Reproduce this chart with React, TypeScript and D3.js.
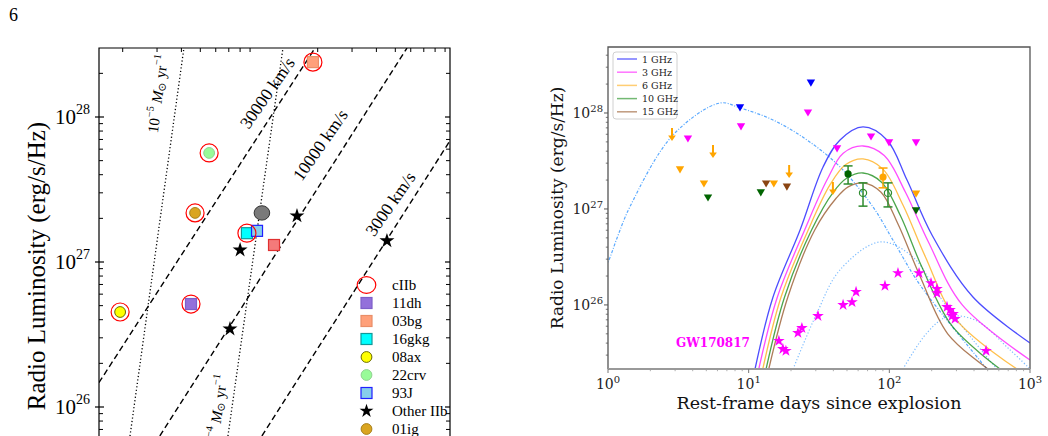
import React from "react";
import * as d3 from "d3";

// ---------------- Left panel data ----------------
const snNames = ["11dh", "03bg", "16gkg", "08ax", "22crv", "93J", "01ig"];
const snPeakDays = [44.8, 189, 86.7, 19.4, 55.5, 97.7, 47.0];
const snPeakLum = [5.13e26, 2.39e28, 1.58e27, 4.52e26, 5.65e27, 1.64e27, 2.18e27];
const snIsCIIb = [true, true, true, true, true, false, true];

const otherIIbDays = [80, 156.6, 453, 71];
const otherIIbLum = [1.21e27, 2.08e27, 1.4e27, 3.45e26];

const greyPointDays = [103.5];
const greyPointLum = [2.18e27];
const redSquareDays = [119.4];
const redSquareLum = [1.31e27];

const velocityLabels = ["30000 km/s", "10000 km/s", "3000 km/s"];
const velocityStartDays = [15.1, 31.0, 103.5];
const velocityStartLum = [1.47e26, 6.31e25, 6.31e25];
const velocityEndDays = [193.8, 574, 1300];
const velocityEndLum = [2.99e28, 2.99e28, 1.32e28];
const velocityLabelDays = [112.5, 210, 481];
const velocityLabelLum = [1.44e28, 6.31e27, 2.47e27];

const massLossExp = ["\u22125", "\u22124"];
const massLossTopDays = [41.2, 132.7];
const massLossTopLum = [2.99e28, 2.99e28];
const massLossBottomDays = [21.8, 69.3];
const massLossBottomLum = [6.31e25, 6.31e25];
const massLossLabelDays = [31.0, 62.4];
const massLossLabelLum = [1.44e28, 8.96e25];

const leftLegend = ["cIIb", "11dh", "03bg", "16gkg", "08ax", "22crv", "93J", "Other IIb", "01ig"];
const leftYTicks = [1e26, 1e27, 1e28];

// ---------------- Right panel data ----------------
const freqLabels = ["1 GHz", "3 GHz", "6 GHz", "10 GHz", "15 GHz"];

const model1Days = [11.1, 14.9, 23.2, 33.8, 44.6, 65, 96.2, 133.6, 201, 393, 1000];
const model1Lum = [2.15e25, 1.21e26, 6.04e26, 2.74e27, 5.23e27, 7.15e27, 5.23e27, 2.0e27, 5.36e26, 1.21e26, 4.02e25];
const model3Days = [11.8, 16, 25, 36, 47, 65, 92, 130, 190, 330, 1000];
const model3Lum = [2.15e25, 1.21e26, 6.04e26, 2.0e27, 3.8e27, 4.53e27, 3.6e27, 1.5e27, 4.5e26, 1.0e26, 2.67e25];
const model6Days = [12.6, 17, 26.5, 38, 49, 65, 90, 125, 180, 300, 808];
const model6Lum = [2.15e25, 1.21e26, 6.04e26, 1.8e27, 2.9e27, 3.32e27, 2.6e27, 1.1e27, 3.2e26, 7e25, 2.15e25];
const model10Days = [13.3, 18, 28, 40, 50, 65, 88, 120, 170, 280, 612];
const model10Lum = [2.15e25, 1.21e26, 6.04e26, 1.5e27, 2.1e27, 2.37e27, 1.9e27, 8.5e26, 2.5e26, 6e25, 2.15e25];
const model15Days = [13.9, 19, 29.5, 42, 51, 65, 87, 115, 165, 260, 503];
const model15Lum = [2.15e25, 1.21e26, 6.04e26, 1.3e27, 1.7e27, 1.87e27, 1.5e27, 7e26, 2e26, 5e25, 2.15e25];

const dashDotDays = [0.9, 1.0, 1.16, 1.43, 2.9, 6.25, 8.68, 14.9, 26.0, 44.6, 76.5, 106, 165, 495];
const dashDotLum = [2.2e26, 2.8e26, 4.99e26, 1.05e27, 5.9e27, 1.27e28, 1.13e28, 8.45e27, 5.23e27, 2.74e27, 1.05e27, 4.75e26, 1.62e26, 2.15e25];
const dottedBDays = [20.7, 30.6, 44.6, 85.9, 147, 229, 393, 582];
const dottedBLum = [2.15e25, 8.26e25, 2.32e26, 4.53e26, 3.16e26, 1.21e26, 4.32e25, 2.15e25];
const dottedCDays = [125, 185, 257, 406, 721, 1000];
const dottedCLum = [2.15e25, 5.11e25, 7.5e25, 6.98e25, 3.4e25, 2.15e25];

const ul1Days = [8.68, 27.7];
const ul1Lum = [1.13e28, 2.05e28];
const ul3Days = [3.7, 8.82, 26.4, 42.5, 74.1, 99.5, 154.8];
const ul3Lum = [5.36e27, 7.15e27, 1.0e28, 4.22e27, 5.62e27, 4.87e27, 4.87e27];
const ul6Days = [3.25, 4.81, 15.1, 154.8];
const ul6Lum = [2.55e27, 1.82e27, 1.82e27, 1.43e27];
const ul10Days = [5.14, 12.2, 154.8];
const ul10Lum = [1.3e27, 1.47e27, 9.53e26];
const ul15Days = [13.3, 18.7];
const ul15Lum = [1.82e27, 1.69e27];
const arrow6Days = [2.85, 5.58, 19.4, 39.7];
const arrow6Lum = [6.98e27, 4.64e27, 2.87e27, 1.91e27];

const det10Days = [50.9];
const det10Lum = [2.32e27];
const det10Lo = [1.82e27];
const det10Hi = [2.81e27];
const det10OpenDays = [65.0, 97.8];
const det10OpenLum = [1.47e27, 1.47e27];
const det10OpenLo = [1.07e27, 1.05e27];
const det10OpenHi = [1.87e27, 1.87e27];
const det6Days = [90.2];
const det6Lum = [2.15e27];
const det6Lo = [1.66e27];
const det6Hi = [2.67e27];

const gwDays = [16.4, 17.5, 18.4, 22.4, 23.9, 31.1, 46.9, 54.3, 58.0, 93.1, 115.2, 162.6, 197.8, 218.1, 218.1, 257, 270, 284, 279, 293, 487];
const gwLum = [4.22e25, 3.48e25, 3.32e25, 5.11e25, 5.75e25, 7.68e25, 1.0e26, 1.07e26, 1.37e26, 1.58e26, 2.15e26, 2.15e26, 1.69e26, 1.47e26, 1.33e26, 9.53e25, 8.87e25, 8.06e25, 7.68e25, 7.15e25, 3.32e25];

const rightXTicks = [1, 10, 100, 1000];
const rightXTickExp = ["0", "1", "2", "3"];
const rightYTicks = [1e26, 1e27, 1e28];

// ---------------- styles ----------------
const snStyle: Record<string, { shape: string; fill: string; stroke: string }> = {
  "11dh": { shape: "square", fill: "#9370DB", stroke: "#7d5fc9" },
  "03bg": { shape: "square", fill: "#FFA07A", stroke: "#e98e68" },
  "16gkg": { shape: "square", fill: "#00FFFF", stroke: "#119999" },
  "08ax": { shape: "circle", fill: "#FFFF00", stroke: "#6b6b00" },
  "22crv": { shape: "circle", fill: "#98FB98", stroke: "#8fd28f" },
  "93J": { shape: "square", fill: "#87CEEB", stroke: "#1f1fff" },
  "01ig": { shape: "circle", fill: "#DAA520", stroke: "#a8801a" },
};
const freqColors = ["#0000ff", "#ff00ff", "#ffa500", "#008000", "#8b4513"];
const triColors = ["#0000ff", "#ff00ff", "#ffa500", "#006400", "#8b4513"];

// ---------------- scales ----------------
const xL = d3.scaleLog().domain([10, 1000]).range([64, 454]);
const yL = d3.scaleLog().domain([1e26, 1e28]).range([407, 117]);
const LF = { x0: 99, y0: 48, x1: 450, y1: 445 };

const xR = d3.scaleLog().domain([1, 1000]).range([608, 1030]);
const yR = d3.scaleLog().domain([2.15e25, 4.87e28]).range([369, 47]);
const RF = { x0: 608, y0: 47, x1: 1030, y1: 369 };

const LFONT = "'Liberation Serif', 'Times New Roman', serif";
const RFONT = "'DejaVu Serif', serif";

function minorTicks(lo: number, hi: number) {
  const out: number[] = [];
  for (let d = Math.floor(Math.log10(lo)); d <= Math.ceil(Math.log10(hi)); d++) {
    for (let k = 2; k <= 9; k++) {
      const v = k * Math.pow(10, d);
      if (v >= lo && v <= hi) out.push(v);
    }
  }
  return out;
}

function zip(xs: number[], ys: number[]): [number, number][] {
  return xs.map((x, i) => [x, ys[i]]);
}

function MassLabel({ exp, x, y, angle }: { exp: string; x: number; y: number; angle: number }) {
  return (
    <text
      transform={`translate(${x},${y}) rotate(${angle})`}
      textAnchor="middle"
      dominantBaseline="middle"
      fontFamily={LFONT}
      fontSize={15}
    >
      10
      <tspan fontSize={10.5} dy={-6}>{exp}</tspan>
      <tspan dy={6}> </tspan>
      <tspan fontStyle="italic">M</tspan>
      <tspan fontSize={10.5} dy={3}>{"\u2299"}</tspan>
      <tspan dy={-3}> yr</tspan>
      <tspan fontSize={10.5} dy={-6}>{"\u22121"}</tspan>
    </text>
  );
}

function LeftPanel() {
  const lineLog = d3
    .line<[number, number]>()
    .x((d) => xL(d[0]))
    .y((d) => yL(d[1]));
  const visLo = yL.invert(LF.y1);
  const visHi = yL.invert(LF.y0);
  const yMinor = minorTicks(visLo, visHi);
  const xMinor = minorTicks(xL.invert(LF.x0), xL.invert(LF.x1)).filter(
    (v) => Math.abs(Math.log10(v) - Math.round(Math.log10(v))) > 1e-6
  );
  const velAngle =
    (Math.atan2(
      yL(velocityEndLum[0]) - yL(velocityStartLum[0]),
      xL(velocityEndDays[0]) - xL(velocityStartDays[0])
    ) *
      180) /
    Math.PI;
  const massAngle =
    (Math.atan2(
      yL(massLossTopLum[0]) - yL(massLossBottomLum[0]),
      xL(massLossTopDays[0]) - xL(massLossBottomDays[0])
    ) *
      180) /
    Math.PI;

  const marker = (name: string, cx: number, cy: number, key: string) => {
    const s = snStyle[name];
    if (s.shape === "square")
      return (
        <rect key={key} x={cx - 5.5} y={cy - 5.5} width={11} height={11} fill={s.fill} stroke={s.stroke} strokeWidth={1.2} />
      );
    return <circle key={key} cx={cx} cy={cy} r={5.4} fill={s.fill} stroke={s.stroke} strokeWidth={1} />;
  };
  const star = d3.symbol(d3.symbolStar, 70)();

  return (
    <g>
      <defs>
        <clipPath id="clipL">
          <rect x={LF.x0} y={LF.y0} width={LF.x1 - LF.x0} height={LF.y1 - LF.y0} />
        </clipPath>
      </defs>
      <g clipPath="url(#clipL)">
        {velocityLabels.map((lab, i) => (
          <path
            key={lab}
            d={lineLog([
              [velocityStartDays[i], velocityStartLum[i]],
              [velocityEndDays[i], velocityEndLum[i]],
            ]) || ""}
            stroke="#000"
            strokeWidth={1.4}
            strokeDasharray="6,3.5"
            fill="none"
          />
        ))}
        {massLossExp.map((e, i) => (
          <path
            key={e}
            d={lineLog([
              [massLossBottomDays[i], massLossBottomLum[i]],
              [massLossTopDays[i], massLossTopLum[i]],
            ]) || ""}
            stroke="#000"
            strokeWidth={1.3}
            strokeDasharray="1.2,2.3"
            fill="none"
          />
        ))}
        {velocityLabels.map((lab, i) => (
          <text
            key={"vl" + lab}
            transform={`translate(${xL(velocityLabelDays[i])},${yL(velocityLabelLum[i])}) rotate(${velAngle + 2})`}
            textAnchor="middle"
            dominantBaseline="middle"
            fontFamily={LFONT}
            fontSize={17.5}
          >
            {lab}
          </text>
        ))}
        {massLossExp.map((e, i) => (
          <MassLabel key={"ml" + e} exp={e} x={xL(massLossLabelDays[i])} y={yL(massLossLabelLum[i])} angle={massAngle} />
        ))}
        {otherIIbDays.map((d, i) => (
          <path key={"st" + i} d={star || ""} transform={`translate(${xL(d)},${yL(otherIIbLum[i])})`} fill="#000" />
        ))}
        {greyPointDays.map((d, i) => (
          <ellipse key={"gp" + i} cx={xL(d)} cy={yL(greyPointLum[i])} rx={7.8} ry={7.2} fill="#7a7a7a" stroke="#333" strokeWidth={1} />
        ))}
        {redSquareDays.map((d, i) => (
          <rect
            key={"rs" + i}
            x={xL(d) - 5.5}
            y={yL(redSquareLum[i]) - 5.5}
            width={11}
            height={11}
            fill="#f47a7a"
            stroke="#e03030"
            strokeWidth={1.2}
          />
        ))}
        {snNames.map((n, i) => marker(n, xL(snPeakDays[i]), yL(snPeakLum[i]), "sn" + n))}
        {snNames.map((n, i) =>
          snIsCIIb[i] ? (
            <circle key={"c" + n} cx={xL(snPeakDays[i])} cy={yL(snPeakLum[i])} r={9} fill="none" stroke="#ff0000" strokeWidth={1.2} />
          ) : null
        )}
        {yMinor.map((v) => (
          <line key={"ym" + v} x1={LF.x0} x2={LF.x0 + 4} y1={yL(v)} y2={yL(v)} stroke="#000" strokeWidth={1} />
        ))}
        {yMinor.map((v) => (
          <line key={"ymr" + v} x1={LF.x1 - 4} x2={LF.x1} y1={yL(v)} y2={yL(v)} stroke="#000" strokeWidth={1} />
        ))}
        {xMinor.map((v) => (
          <line key={"xm" + v} x1={xL(v)} x2={xL(v)} y1={LF.y0} y2={LF.y0 + 4} stroke="#000" strokeWidth={1} />
        ))}
      </g>
      {leftYTicks.map((v) => (
        <line key={"yM" + v} x1={LF.x0 - 4} x2={LF.x0 + 5} y1={yL(v)} y2={yL(v)} stroke="#000" strokeWidth={1.2} />
      ))}
      {leftYTicks.map((v) => (
        <line key={"yMr" + v} x1={LF.x1 - 5} x2={LF.x1} y1={yL(v)} y2={yL(v)} stroke="#000" strokeWidth={1.2} />
      ))}
      <path d={`M${LF.x0},${LF.y1}V${LF.y0}H${LF.x1}V${LF.y1}`} fill="none" stroke="#000" strokeWidth={1.2} />
      {leftYTicks.map((v) => (
        <text key={"yl" + v} x={90} y={yL(v) + 7} textAnchor="end" fontFamily={LFONT} fontSize={21}>
          10
          <tspan fontSize={14} dy={-10}>
            {String(Math.round(Math.log10(v)))}
          </tspan>
        </text>
      ))}
      <text
        transform={`translate(45,${(LF.y0 + 440) / 2 + 22}) rotate(-90)`}
        textAnchor="middle"
        fontFamily={LFONT}
        fontSize={25}
      >
        Radio Luminosity (erg/s/Hz)
      </text>
      {leftLegend.map((lab, i) => {
        const y = 285 + i * 18;
        let m: React.ReactNode;
        if (lab === "cIIb") m = <ellipse cx={366.5} cy={y} rx={9.3} ry={8.3} fill="none" stroke="#ff0000" strokeWidth={1.2} />;
        else if (lab === "Other IIb")
          m = <path d={d3.symbol(d3.symbolStar, 60)() || ""} transform={`translate(366.5,${y})`} fill="#000" />;
        else m = marker(lab, 366.5, y, "lg" + lab);
        return (
          <g key={"lg" + lab}>
            {m}
            <text x={392} y={y + 4.5} fontFamily={LFONT} fontSize={15}>
              {lab}
            </text>
          </g>
        );
      })}
    </g>
  );
}

function RightPanel() {
  const line = d3
    .line<[number, number]>()
    .x((d) => xR(d[0]))
    .y((d) => yR(d[1]))
    .curve(d3.curveCatmullRom.alpha(0.5));
  const models = [
    zip(model1Days, model1Lum),
    zip(model3Days, model3Lum),
    zip(model6Days, model6Lum),
    zip(model10Days, model10Lum),
    zip(model15Days, model15Lum),
  ];
  const uls: [number[], number[]][] = [
    [ul1Days, ul1Lum],
    [ul3Days, ul3Lum],
    [ul6Days, ul6Lum],
    [ul10Days, ul10Lum],
    [ul15Days, ul15Lum],
  ];
  const tri = (x: number, y: number) => `M${x - 4.2},${y - 3.6}L${x + 4.2},${y - 3.6}L${x},${y + 3.6}Z`;
  const gwStar = d3.symbol(d3.symbolStar, 42)() || "";
  const yMinor = minorTicks(yR.domain()[0], yR.domain()[1]).filter(
    (v) => Math.abs(Math.log10(v) - Math.round(Math.log10(v))) > 1e-6
  );
  const xMinor = minorTicks(1, 1000).filter((v) => Math.abs(Math.log10(v) - Math.round(Math.log10(v))) > 1e-6);
  const errBar = (x: number, lo: number, hi: number, color: string, key: string) => (
    <g key={key} stroke={color} strokeWidth={1.5}>
      <line x1={x} x2={x} y1={yR(lo)} y2={yR(hi)} />
      <line x1={x - 4.5} x2={x + 4.5} y1={yR(lo)} y2={yR(lo)} />
      <line x1={x - 4.5} x2={x + 4.5} y1={yR(hi)} y2={yR(hi)} />
    </g>
  );

  return (
    <g>
      <defs>
        <clipPath id="clipR">
          <rect x={RF.x0} y={RF.y0} width={RF.x1 - RF.x0} height={RF.y1 - RF.y0} />
        </clipPath>
      </defs>
      <g clipPath="url(#clipR)">
        <path d={line(zip(dashDotDays, dashDotLum)) || ""} fill="none" stroke="#5aa9ff" strokeWidth={1.2} strokeDasharray="3,1.6,1,1.6" />
        <path d={line(zip(dottedBDays, dottedBLum)) || ""} fill="none" stroke="#7dbcff" strokeWidth={1.2} strokeDasharray="1.2,2" />
        <path d={line(zip(dottedCDays, dottedCLum)) || ""} fill="none" stroke="#7dbcff" strokeWidth={1.2} strokeDasharray="1.2,2" />
        {models.map((m, i) => (
          <path key={"m" + i} d={line(m) || ""} fill="none" stroke={freqColors[i]} strokeOpacity={0.7} strokeWidth={1.3} />
        ))}
        {uls.map(([ds, ls], i) =>
          ds.map((d, j) => <path key={"u" + i + "-" + j} d={tri(xR(d), yR(ls[j]))} fill={triColors[i]} />)
        )}
        {arrow6Days.map((d, i) => {
          const x = xR(d);
          const y = yR(arrow6Lum[i]);
          return (
            <g key={"a" + i}>
              <line x1={x} x2={x} y1={y} y2={y + 9} stroke="#ffa500" strokeWidth={2} />
              <path d={`M${x - 3.8},${y + 7.5}L${x + 3.8},${y + 7.5}L${x},${y + 13}Z`} fill="#ffa500" />
            </g>
          );
        })}
        {det6Days.map((d, i) => errBar(xR(d), det6Lo[i], det6Hi[i], "#ffa500", "e6" + i))}
        {det6Days.map((d, i) => (
          <circle key={"d6" + i} cx={xR(d)} cy={yR(det6Lum[i])} r={3.6} fill="#ffa500" />
        ))}
        {det10Days.map((d, i) => errBar(xR(d), det10Lo[i], det10Hi[i], "#2e8b2e", "e10" + i))}
        {det10Days.map((d, i) => (
          <circle key={"d10" + i} cx={xR(d)} cy={yR(det10Lum[i])} r={3.6} fill="#006400" />
        ))}
        {det10OpenDays.map((d, i) => errBar(xR(d), det10OpenLo[i], det10OpenHi[i], "#2e8b2e", "eo10" + i))}
        {det10OpenDays.map((d, i) => (
          <circle key={"o10" + i} cx={xR(d)} cy={yR(det10OpenLum[i])} r={3.6} fill="none" stroke="#2e8b2e" strokeWidth={1.2} />
        ))}
        {gwDays.map((d, i) => (
          <path key={"gw" + i} d={gwStar} transform={`translate(${xR(d)},${yR(gwLum[i])})`} fill="#ff00ff" />
        ))}
      </g>
      <text x={713} y={347} textAnchor="middle" fontFamily={RFONT} fontWeight="bold" fontSize={12} fill="#ff00ff">
        GW170817
      </text>
      <rect x={613} y={52} width={64} height={67} rx={3} fill="#fff" fillOpacity={0.8} stroke="#d0d0d0" strokeWidth={1} />
      {freqLabels.map((lab, i) => {
        const y = 59 + i * 13.2;
        return (
          <g key={"fl" + lab}>
            <line x1={617} x2={637} y1={y} y2={y} stroke={freqColors[i]} strokeOpacity={0.55} strokeWidth={1.5} />
            <text x={642} y={y + 3.5} fontFamily={RFONT} fontSize={9.5} fill="#222">
              {lab}
            </text>
          </g>
        );
      })}
      <path d={`M${RF.x0},${RF.y1}V${RF.y0}H${RF.x1}V${RF.y1}`} fill="none" stroke="#555" strokeWidth={1.3} />
      <line x1={RF.x0} x2={RF.x1} y1={RF.y1} y2={RF.y1} stroke="#999" strokeWidth={2} />
      {rightYTicks.map((v) => (
        <line key={"ryt" + v} x1={RF.x0 - 4} x2={RF.x0} y1={yR(v)} y2={yR(v)} stroke="#555" strokeWidth={1} />
      ))}
      {yMinor.map((v) => (
        <line key={"rym" + v} x1={RF.x0 - 2.2} x2={RF.x0} y1={yR(v)} y2={yR(v)} stroke="#555" strokeWidth={0.8} />
      ))}
      {rightXTicks.map((v) => (
        <line key={"rxt" + v} x1={xR(v)} x2={xR(v)} y1={RF.y1} y2={RF.y1 + 4} stroke="#777" strokeWidth={1} />
      ))}
      {xMinor.map((v) => (
        <line key={"rxm" + v} x1={xR(v)} x2={xR(v)} y1={RF.y1} y2={RF.y1 + 2.2} stroke="#999" strokeWidth={0.8} />
      ))}
      {rightYTicks.map((v) => (
        <text key={"ryl" + v} x={603} y={yR(v) + 5} textAnchor="end" fontFamily={RFONT} fontSize={14} fill="#222">
          10
          <tspan fontSize={10} dy={-6}>
            {String(Math.round(Math.log10(v)))}
          </tspan>
        </text>
      ))}
      {rightXTicks.map((v, i) => (
        <text key={"rxl" + v} x={xR(v)} y={389} textAnchor="middle" fontFamily={RFONT} fontSize={14} fill="#222">
          10
          <tspan fontSize={10} dy={-6}>
            {rightXTickExp[i]}
          </tspan>
        </text>
      ))}
      <text x={819} y={409} textAnchor="middle" fontFamily={RFONT} fontSize={17.5} fill="#111">
        Rest-frame days since explosion
      </text>
      <text
        transform={`translate(563,${(RF.y0 + RF.y1) / 2}) rotate(-90)`}
        textAnchor="middle"
        fontFamily={RFONT}
        fontSize={17}
        fill="#111"
      >
        Radio Luminosity (erg/s/Hz)
      </text>
    </g>
  );
}

export default function App() {
  return (
    <svg width={1048} height={436} style={{ display: "block", position: "absolute", left: 0, top: 0, background: "#fff" }}>
      <rect width={1048} height={436} fill="#fff" />
      <text x={9} y={21} fontFamily={LFONT} fontSize={18}>
        6
      </text>
      <LeftPanel />
      <RightPanel />
    </svg>
  );
}
